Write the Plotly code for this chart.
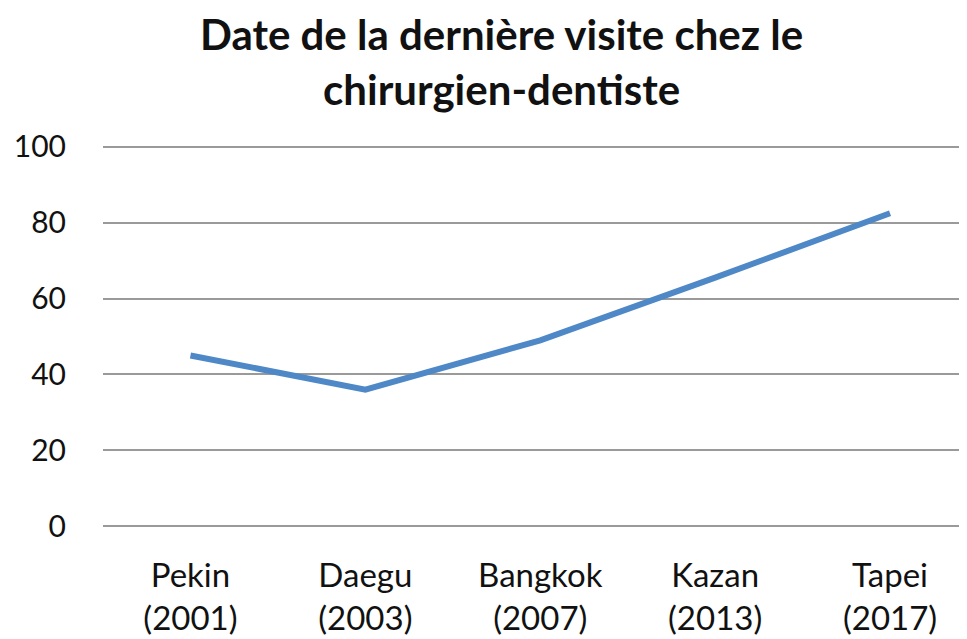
import plotly.graph_objects as go

categories = ["Pekin<br>(2001)", "Daegu<br>(2003)", "Bangkok<br>(2007)", "Kazan<br>(2013)", "Tapei<br>(2017)"]
values = [45, 36, 49, 65.5, 82.5]
y_ticks = [0, 20, 40, 60, 80, 100]
title_text = "<b>Date de la dernière visite chez le<br>chirurgien-dentiste</b>"

fig = go.Figure()
fig.add_trace(go.Scatter(
    x=categories, y=values, mode="lines",
    line=dict(color="#4F88C6", width=6),
    showlegend=False, hoverinfo="skip",
))

# page has an 8px body margin, so the figure is sized to fit the 967x639 window
W, H = 959, 631
L, T, B = 95, 135, 109
plot_h = H - T - B
plot_w = W - L
fig.update_layout(
    width=W, height=H,
    margin=dict(l=L, r=0, t=T, b=B, autoexpand=False),
    paper_bgcolor="white", plot_bgcolor="white",
    font=dict(family="Lato, 'Open Sans', sans-serif", color="#111111"),
)
fig.add_annotation(
    text=title_text, xref="paper", yref="paper",
    x=(493 - L) / plot_w, xanchor="center",
    y=1 + T / plot_h, yanchor="top", showarrow=False, borderpad=0,
    font=dict(size=42, family="Lato", color="#111111"),
)
fig.update_xaxes(
    type="category", range=[-0.5, 4.44], automargin=False,
    showgrid=False, zeroline=False, showline=False,
    ticks="", tickfont=dict(size=33, color="#111111"),
    ticklabelstandoff=23,
)
fig.update_yaxes(
    range=[-1, 101], tickvals=y_ticks, automargin=False,
    showgrid=True, gridcolor="#9a9a9a", gridwidth=1.5,
    zeroline=False, showline=False,
    ticks="", tickfont=dict(size=30, color="#111111"),
    ticklabelstandoff=36,
)
fig.write_html("out.html")
